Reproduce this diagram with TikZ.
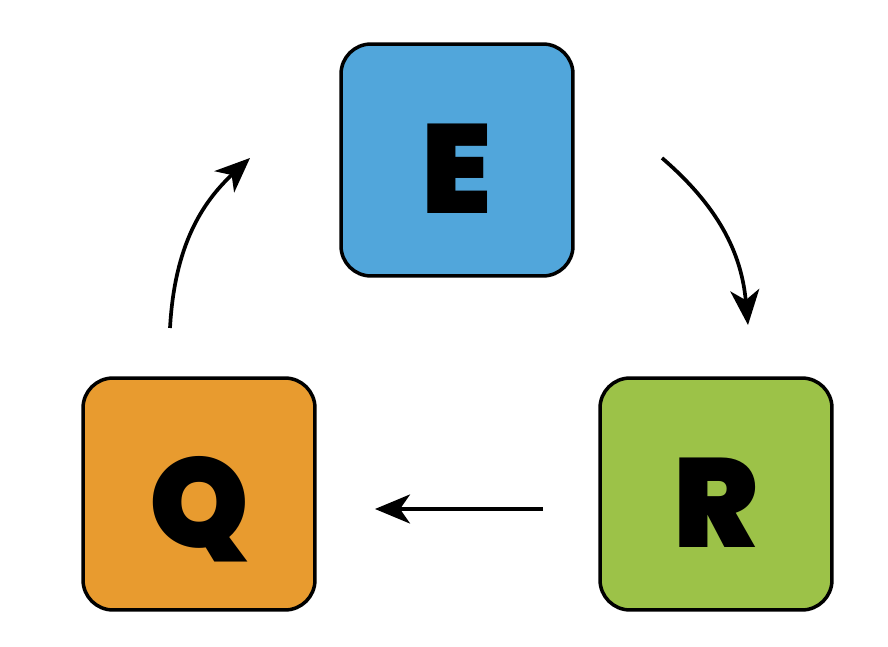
\documentclass[tikz,border=0pt]{standalone}
\usepackage{fontspec}
\usetikzlibrary{arrows.meta}
\newfontfamily\heavyfont{Poppins Black}
\definecolor{eblue}{HTML}{51A6DB}
\definecolor{qorange}{HTML}{E89B2F}
\definecolor{rgreen}{HTML}{9CC248}
\tikzset{
  letterbox/.style={shape=rectangle, rounded corners=0.6cm, draw=black, line width=2pt,
    minimum size=4.64cm, text height=2.15cm, text depth=0cm,
    font=\heavyfont\fontsize{72}{72}\selectfont},
  cyclearrow/.style={-{Stealth[length=0.7cm, width=0.58cm, inset=0.2cm]}, line width=2.1pt}
}
\begin{document}
\begin{tikzpicture}[x=0.02cm, y=0.02cm]
        \useasboundingbox (0,0) rectangle (888,646);
        \node[letterbox, fill=eblue] (E) at (457,486) {E};
        \node[letterbox, fill=qorange] (Q) at (199,152) {Q};
        \node[letterbox, fill=rgreen] (R) at (716,152) {R};

        % arrow ends
        \coordinate (e1) at (662,488);
        \coordinate (r0) at (748,321);
        \coordinate (r1) at (543,137);
        \coordinate (q0) at (375,137);
        \coordinate (q1) at (170,318);
        \coordinate (e0) at (250,488);

        \path [cyclearrow] (e1) edge [bend left=22] node {} (r0);
        \path [cyclearrow] (r1) edge node {} (q0);
        \path [cyclearrow] (q1) edge [bend left=22] node {} (e0);
    \end{tikzpicture}
\end{document}
